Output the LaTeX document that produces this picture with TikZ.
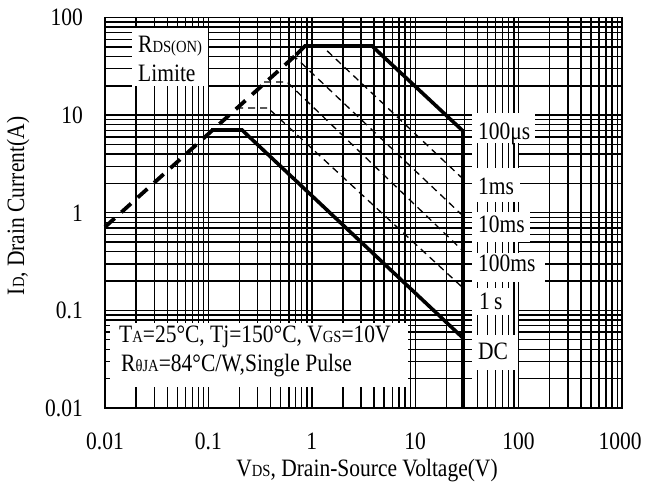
\documentclass[tikz,border=0pt]{standalone}
\usepackage{fontspec}
\setmainfont{Liberation Serif}[FakeStretch=0.86]
\newcommand\smc[1]{{\fontsize{17}{17}\selectfont #1}}
\begin{document}
\begin{tikzpicture}[x=1pt,y=-1pt,
  grid/.style={line width=1.4pt,black},
  cover/.style={fill=white,draw=none},
  thickc/.style={line width=3.6pt,line join=miter},
  thickdash/.style={line width=3.8pt,dash pattern=on 13pt off 9pt},
  thindash/.style={line width=1.3pt,dash pattern=on 7pt off 5pt},
  lbl/.style={font=\fontsize{25}{25}\selectfont,inner sep=0pt,anchor=base west},
  tick/.style={font=\fontsize{25}{25}\selectfont,inner sep=0pt}]
\useasboundingbox[fill=white] (0,0) rectangle (646,486);
% horizontal grid lines
\foreach \d in {0,1,2,3}{\foreach \m in {1,...,9}{%
  \pgfmathsetmacro\yy{408-97.6*(\d+log10(\m))}%
  \draw[grid] (105,\yy) -- (622,\yy);}}
\draw[grid] (105,17.6) -- (622,17.6);
% areas where only horizontal lines are hidden
\fill[cover] (132,28) rectangle (208,88);
\fill[cover] (110,323) rectangle (408,407);
\fill[cover] (472,113) rectangle (518,407);
% vertical grid lines
\foreach \d in {0,...,4}{\foreach \m in {1,...,9}{%
  \pgfmathsetmacro\xx{105+103.4*(\d+log10(\m))}%
  \draw[grid] (\xx,17.6) -- (\xx,408);}}
\draw[grid] (622,17.6) -- (622,408);
% label backgrounds
\fill[cover] (132,28) rectangle (208,86);
\fill[cover] (472,113) rectangle (535,143);
\fill[cover] (472,168) rectangle (520,202);
\fill[cover] (472,212) rectangle (530,242);
\fill[cover] (472,253) rectangle (545,282);
\fill[cover] (472,288) rectangle (512,315);
\fill[cover] (472,335) rectangle (517,370);
\fill[cover] (110,323) rectangle (408,387);
% frame
\draw[line width=1.6pt] (105,17.6) rectangle (622,408);
% curves
\draw[thindash] (305,46) -- (322,46) -- (462,178);
\draw[thindash] (291,57) -- (295,57) -- (462,215);
\draw[thindash] (264,82) -- (287,82) -- (462,250);
\draw[thindash] (236,108) -- (268,108) -- (462,287);
\draw[thickdash] (105,227) -- (296,55);
\draw[thickc] (296,55) -- (305,46) -- (372,46) -- (463,131) -- (463,408);
\draw[thickc] (211,130) -- (242,130) -- (463,338);
% labels in the plot
\node[lbl] (rds) at (138,53) {R\smc{DS(ON)}};
\node[lbl] (lim) at (138,82) {Limite};
\node[lbl] (l100us) at (478,140) {100μs};
\node[lbl] (l1ms) at (478,195) {1ms};
\node[lbl] (l10ms) at (478,233) {10ms};
\node[lbl] (l100ms) at (478,272) {100ms};
\node[lbl] (l1s) at (479,310) {1\,s};
\node[lbl] (ldc) at (478,360) {DC};
\node[lbl] (cond1) at (119,343) {T\smc{A}=25°C, Tj=150°C, V\smc{GS}=10V};
\node[lbl] (cond2) at (121,372) {R\smc{θJA}=84°C/W,Single Pulse};
% y tick labels
\node[tick,anchor=east] (y100) at (83,17.6) {100};
\node[tick,anchor=east] (y10) at (83,115.2) {10};
\node[tick,anchor=east] (y1) at (83,212.8) {1};
\node[tick,anchor=east] (y01) at (83,310.4) {0.1};
\node[tick,anchor=east] (y001) at (83,408) {0.01};
% x tick labels
\node[tick,anchor=base] (x001) at (105,450) {0.01};
\node[tick,anchor=base] (x01) at (208.4,450) {0.1};
\node[tick,anchor=base] (x1) at (311.8,450) {1};
\node[tick,anchor=base] (x10) at (415.2,450) {10};
\node[tick,anchor=base] (x100) at (518.6,450) {100};
\node[tick,anchor=base] (x1000) at (620,450) {1000};
% axis titles
\node[tick,anchor=base] (xt) at (367,477) {V\smc{DS}, Drain-Source Voltage(V)};
\node[tick,anchor=base,rotate=90] (yt) at (24,206) {I\smc{D}, Drain Current(A)};
\end{tikzpicture}
\end{document}
